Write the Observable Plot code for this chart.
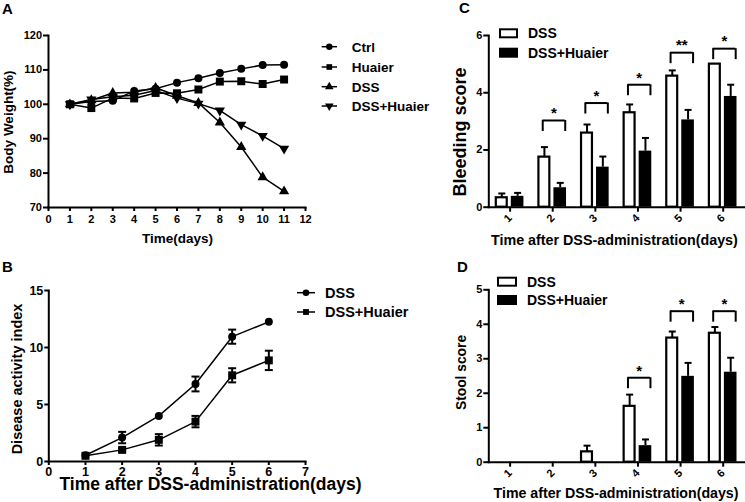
<!DOCTYPE html>
<html>
<head>
<meta charset="utf-8">
<script src="https://cdn.jsdelivr.net/npm/d3@7"></script>
<script src="https://cdn.jsdelivr.net/npm/@observablehq/plot@0.6"></script>
<style>
  body { margin: 0; background: #fff; }
  #fig { position: relative; width: 745px; height: 502px; overflow: hidden; background: #fff;
         font-family: "Liberation Sans", Arial, Helvetica, sans-serif; font-weight: bold; color: #000; }
  .panel { position: absolute; }
  .panel svg { display: block; }
  .letter { position: absolute; font-size: 15px; font-weight: bold; line-height: 15px; }
</style>
</head>
<body>
<div id="fig"></div>
<script>
// ---------------- DATA ----------------
// Panel A: body weight (%)
const weightDays = [1, 2, 3, 4, 5, 6, 7, 8, 9, 10, 11];
const weightCtrl = [100, 100.8, 101.0, 103.9, 104.5, 106.3, 107.6, 109.1, 110.3, 111.4, 111.5];
const weightHuaier = [100, 98.9, 101.8, 101.7, 103.3, 103.2, 104.3, 106.6, 106.7, 105.9, 107.2];
const weightDSS = [100, 101.2, 103.3, 103.5, 104.8, 102.5, 100.4, 94.7, 87.6, 78.8, 74.7];
const weightDSSHuaier = [100, 101.4, 102.2, 102.6, 104.0, 101.8, 100.2, 98.2, 94.1, 90.8, 87.1];
const weightGroups = ["Ctrl", "Huaier", "DSS", "DSS+Huaier"];
const weightTicksX = [0, 1, 2, 3, 4, 5, 6, 7, 8, 9, 10, 11, 12];
const weightTicksY = [70, 80, 90, 100, 110, 120];

// Panel B: disease activity index (mean, SEM)
const daiDays = [1, 2, 3, 4, 5, 6];
const daiDSS = [0.55, 2.1, 4.0, 6.8, 10.95, 12.25];
const daiDSSErr = [0, 0.5, 0, 0.65, 0.62, 0];
const daiHuaier = [0.5, 1.02, 1.9, 3.5, 7.56, 8.87];
const daiHuaierErr = [0, 0.15, 0.5, 0.5, 0.62, 0.85];
const daiGroups = ["DSS", "DSS+Huaier"];
const daiTicksX = [0, 1, 2, 3, 4, 5, 6, 7];
const daiTicksY = [0, 5, 10, 15];

// Panels C & D: scores by day
const scoreDays = [1, 2, 3, 4, 5, 6];
const scoreGroups = ["DSS", "DSS+Huaier"];
// C: bleeding score
const bleedDSS = [0.33, 1.75, 2.59, 3.30, 4.58, 5.0];
const bleedDSSErr = [0.15, 0.35, 0.30, 0.29, 0.20, 0];
const bleedHuaier = [0.38, 0.68, 1.40, 1.96, 3.05, 3.87];
const bleedHuaierErr = [0.12, 0.17, 0.37, 0.46, 0.35, 0.41];
const bleedSigLevel = [null, 3.03, 3.64, 4.28, 5.40, 5.54];
const bleedSigMark = ["", "*", "*", "*", "**", "*"];
const bleedTicksY = [0, 2, 4, 6];
// D: stool score
const stoolDSS = [0, 0, 0.30, 1.62, 3.60, 3.74];
const stoolDSSErr = [0, 0, 0.18, 0.34, 0.19, 0.18];
const stoolHuaier = [0, 0, 0, 0.48, 2.49, 2.61];
const stoolHuaierErr = [0, 0, 0, 0.18, 0.39, 0.42];
const stoolSigLevel = [null, null, null, 2.45, 4.38, 4.38];
const stoolSigMark = ["", "", "", "*", "*", "*"];
const stoolTicksY = [0, 1, 2, 3, 4, 5];

// ---------------- HELPERS ----------------
const FONT = '"Liberation Sans", Arial, Helvetica, sans-serif';
const baseStyle = {background: "transparent", overflow: "visible", fontFamily: FONT, fontWeight: "bold", color: "black"};
const intFmt = d3.format("d");
const sqrt3 = Math.sqrt(3);
const triangleDown = {
  draw(ctx, size) {
    const y = Math.sqrt(size / (sqrt3 * 3));
    ctx.moveTo(0, 2 * y);
    ctx.lineTo(-sqrt3 * y, -y);
    ctx.lineTo(sqrt3 * y, -y);
    ctx.closePath();
  }
};
const capSymbol = {
  draw(ctx, size) {
    const w = Math.sqrt(size / Math.PI);
    ctx.moveTo(-w, 0);
    ctx.lineTo(w, 0);
  }
};

const fig = document.getElementById("fig");
function place(svg, left, top) {
  const div = document.createElement("div");
  div.className = "panel";
  div.style.left = left + "px";
  div.style.top = top + "px";
  div.appendChild(svg);
  fig.appendChild(div);
}
function letter(t, left, top) {
  const d = document.createElement("div");
  d.className = "letter";
  d.style.left = left + "px";
  d.style.top = top + "px";
  d.textContent = t;
  fig.appendChild(d);
}
function legendGroup(svg, fontSize) {
  return d3.select(svg).append("g").attr("font-size", fontSize).attr("font-family", FONT)
    .attr("font-weight", "bold").attr("text-anchor", "start");
}
function lineLegend(svg, items, {x1, x2, cx, tx, ys, fontSize}) {
  const g = legendGroup(svg, fontSize);
  items.forEach((it, i) => {
    g.append("line").attr("x1", x1).attr("x2", x2).attr("y1", ys[i]).attr("y2", ys[i])
      .attr("stroke", "black").attr("stroke-width", 1.5);
    g.append("path").attr("d", d3.symbol(it.symbol, it.r * it.r * Math.PI)())
      .attr("transform", `translate(${cx},${ys[i]})`).attr("fill", "black");
    g.append("text").attr("x", tx).attr("y", ys[i]).attr("dy", "0.36em").attr("fill", "black").text(it.label);
  });
}
function boxLegend(svg, items, {x, w, h, tx, ys, fontSize}) {
  const g = legendGroup(svg, fontSize);
  items.forEach((it, i) => {
    g.append("rect").attr("x", x + 1).attr("y", ys[i] - h / 2 + 1).attr("width", w - 2).attr("height", h - 2)
      .attr("fill", it.fill).attr("stroke", "black").attr("stroke-width", 2);
    g.append("text").attr("x", tx).attr("y", ys[i]).attr("dy", "0.36em").attr("fill", "black").text(it.label);
  });
}
function axisTitle(svg, text, {x, y, size, rotate = 0}) {
  d3.select(svg).append("text")
    .attr("transform", `translate(${x},${y}) rotate(${rotate})`)
    .attr("text-anchor", "middle").attr("dy", "0.36em")
    .attr("font-size", size).attr("font-weight", "bold").attr("font-family", FONT)
    .attr("fill", "black").text(text);
}

// ---------------- PANEL A ----------------
const weightSeries = [
  {name: weightGroups[0], values: weightCtrl, symbol: d3.symbolCircle, r: 4},
  {name: weightGroups[1], values: weightHuaier, symbol: d3.symbolSquare, r: 4.5},
  {name: weightGroups[2], values: weightDSS, symbol: d3.symbolTriangle, r: 3.8},
  {name: weightGroups[3], values: weightDSSHuaier, symbol: triangleDown, r: 3.8}
];
const plotA = Plot.plot({
  width: 372, height: 250,
  marginLeft: 48, marginRight: 67, marginTop: 35, marginBottom: 43,
  style: baseStyle,
  x: {domain: [0, 12]},
  y: {domain: [70, 120]},
  marks: [
    ...weightSeries.flatMap(s => {
      const rows = weightDays.map((d, i) => ({day: d, value: s.values[i]}));
      return [
        Plot.line(rows, {x: "day", y: "value", stroke: "black", strokeWidth: 1.5}),
        Plot.dot(rows, {x: "day", y: "value", symbol: s.symbol, r: s.r, fill: "black", stroke: "none"})
      ];
    }),
    Plot.axisX({ticks: weightTicksX, tickFormat: intFmt, tickSize: 4, tickPadding: 4, fontSize: 11, strokeWidth: 2, label: null}),
    Plot.axisY({ticks: weightTicksY, tickFormat: intFmt, tickSize: 5, tickPadding: 1.5, fontSize: 11, strokeWidth: 2, label: null}),
    Plot.frame({anchor: "left", strokeWidth: 2}),
    Plot.frame({anchor: "bottom", strokeWidth: 2})
  ]
});
axisTitle(plotA, "Time(days)", {x: 177.5, y: 238, size: 13.5});
axisTitle(plotA, "Body Weight(%)", {x: 8.5, y: 122, size: 13.5, rotate: -90});
lineLegend(plotA, weightSeries.map(s => ({label: s.name, symbol: s.symbol, r: 3.2})),
  {x1: 321.7, x2: 337, cx: 329.3, tx: 351.7, ys: [46.7, 67, 86.7, 106], fontSize: 13.5});
place(plotA, 0, 0);

// ---------------- PANEL B ----------------
const daiSeries = [
  {name: daiGroups[0], values: daiDSS, err: daiDSSErr, symbol: d3.symbolCircle, r: 4},
  {name: daiGroups[1], values: daiHuaier, err: daiHuaierErr, symbol: d3.symbolSquare, r: 4.5}
];
const plotB = Plot.plot({
  width: 372, height: 252,
  marginLeft: 48.3, marginRight: 67, marginTop: 40, marginBottom: 41,
  style: baseStyle,
  x: {domain: [0, 7]},
  y: {domain: [0, 15]},
  marks: [
    ...daiSeries.flatMap(s => {
      const rows = daiDays.map((d, i) => ({day: d, value: s.values[i], lo: s.values[i] - s.err[i], hi: s.values[i] + s.err[i], err: s.err[i]}));
      const eb = rows.filter(r => r.err > 0);
      return [
        Plot.line(rows, {x: "day", y: "value", stroke: "black", strokeWidth: 1.5}),
        Plot.ruleX(eb, {x: "day", y1: "lo", y2: "hi", stroke: "black", strokeWidth: 2}),
        Plot.dot(eb, {x: "day", y: "hi", symbol: capSymbol, r: 4, fill: "none", stroke: "black", strokeWidth: 2}),
        Plot.dot(eb, {x: "day", y: "lo", symbol: capSymbol, r: 4, fill: "none", stroke: "black", strokeWidth: 2}),
        Plot.dot(rows, {x: "day", y: "value", symbol: s.symbol, r: s.r, fill: "black", stroke: "none"})
      ];
    }),
    Plot.axisX({ticks: daiTicksX, tickFormat: intFmt, tickSize: 4, tickPadding: 2, fontSize: 12.5, strokeWidth: 2, label: null}),
    Plot.axisY({ticks: daiTicksY, tickFormat: intFmt, tickSize: 4, tickPadding: 1.5, fontSize: 12.5, strokeWidth: 2, label: null}),
    Plot.frame({anchor: "left", strokeWidth: 2}),
    Plot.frame({anchor: "bottom", strokeWidth: 2})
  ]
});
axisTitle(plotB, "Time after DSS-administration(days)", {x: 210.5, y: 233.5, size: 17.5});
axisTitle(plotB, "Disease activity index", {x: 16.5, y: 129, size: 14.5, rotate: -90});
lineLegend(plotB, daiSeries.map(s => ({label: s.name, symbol: s.symbol, r: 3.3})),
  {x1: 297, x2: 315, cx: 306, tx: 325, ys: [42.7, 62], fontSize: 14.5});
place(plotB, 0, 250);

// ---------------- PANELS C & D ----------------
function scorePlot({dss, dssErr, hu, huErr, sig, sigMark, yMax, yTicks, height, marginTop, marginBottom}) {
  const rows = scoreDays.map((d, i) => ({
    day: d, dss: dss[i], dssTop: dss[i] + dssErr[i], dssErr: dssErr[i],
    hu: hu[i], huTop: hu[i] + huErr[i], huErr: huErr[i], sig: sig[i], mark: sigMark[i]
  }));
  const dssBars = rows.filter(r => r.dss > 0);
  const huBars = rows.filter(r => r.hu > 0);
  const dssEb = rows.filter(r => r.dssErr > 0);
  const huEb = rows.filter(r => r.huErr > 0);
  const sigRows = rows.filter(r => r.sig != null);
  return Plot.plot({
    width: 373, height,
    marginLeft: 116.3, marginRight: 1, marginTop, marginBottom,
    style: baseStyle,
    x: {type: "band", domain: scoreDays, padding: 0, round: false},
    y: {domain: [0, yMax]},
    marks: [
      Plot.barY(dssBars, {x: "day", y: "dss", fill: "white", stroke: "black", strokeWidth: 2.2, insetLeft: 7.5, insetRight: 24.2}),
      Plot.barY(huBars, {x: "day", y: "hu", fill: "black", insetLeft: 22.5, insetRight: 7.5}),
      Plot.ruleX(dssEb, {x: "day", y1: "dss", y2: "dssTop", dx: -8.3, stroke: "black", strokeWidth: 2}),
      Plot.dot(dssEb, {x: "day", y: "dssTop", dx: -8.3, symbol: capSymbol, r: 3.5, fill: "none", stroke: "black", strokeWidth: 2}),
      Plot.ruleX(huEb, {x: "day", y1: "hu", y2: "huTop", dx: 7.5, stroke: "black", strokeWidth: 2}),
      Plot.dot(huEb, {x: "day", y: "huTop", dx: 7.5, symbol: capSymbol, r: 3.5, fill: "none", stroke: "black", strokeWidth: 2}),
      // significance brackets
      Plot.ruleY(sigRows, {x1: "day", x2: "day", y: "sig", insetLeft: 11.3, insetRight: 8.8, stroke: "black", strokeWidth: 2}),
      Plot.ruleX(sigRows, {x: "day", y1: "sig", y2: "sig", dx: -10, insetBottom: -11, stroke: "black", strokeWidth: 2}),
      Plot.ruleX(sigRows, {x: "day", y1: "sig", y2: "sig", dx: 12.5, insetBottom: -11, stroke: "black", strokeWidth: 2}),
      Plot.text(sigRows, {x: "day", y: "sig", text: "mark", dx: 1.2, dy: -7, fontSize: 15}),
      Plot.axisX({tickFormat: intFmt, tickSize: 5, tickPadding: 4, tickRotate: -45, fontSize: 11, strokeWidth: 2, label: null}),
      Plot.axisY({ticks: yTicks, tickFormat: intFmt, tickSize: 5, tickPadding: 1.5, fontSize: 11, strokeWidth: 2, label: null}),
      Plot.frame({anchor: "left", strokeWidth: 2}),
      Plot.frame({anchor: "bottom", strokeWidth: 2})
    ]
  });
}

const plotC = scorePlot({
  dss: bleedDSS, dssErr: bleedDSSErr, hu: bleedHuaier, huErr: bleedHuaierErr,
  sig: bleedSigLevel, sigMark: bleedSigMark, yMax: 6, yTicks: bleedTicksY,
  height: 250, marginTop: 35, marginBottom: 43.3
});
axisTitle(plotC, "Time after DSS-administration(days)", {x: 242.4, y: 240, size: 14.3});
axisTitle(plotC, "Bleeding score", {x: 88, y: 132, size: 18, rotate: -90});
boxLegend(plotC, [{label: scoreGroups[0], fill: "white"}, {label: scoreGroups[1], fill: "black"}],
  {x: 127, w: 19, h: 10, tx: 156, ys: [33.3, 52.7], fontSize: 14});
place(plotC, 372, 0);

const plotD = scorePlot({
  dss: stoolDSS, dssErr: stoolDSSErr, hu: stoolHuaier, huErr: stoolHuaierErr,
  sig: stoolSigLevel, sigMark: stoolSigMark, yMax: 5, yTicks: stoolTicksY,
  height: 252, marginTop: 39.3, marginBottom: 40.3
});
axisTitle(plotD, "Time after DSS-administration(days)", {x: 244, y: 242.7, size: 14.2});
axisTitle(plotD, "Stool score", {x: 89.5, y: 122.5, size: 13.8, rotate: -90});
boxLegend(plotD, [{label: scoreGroups[0], fill: "white"}, {label: scoreGroups[1], fill: "black"}],
  {x: 125, w: 20, h: 10, tx: 155, ys: [31.7, 50], fontSize: 14});
place(plotD, 372, 250);

// panel letters
letter("A", 2, 1);
letter("B", 2, 259);
letter("C", 459, 0);
letter("D", 457, 259);
</script>
</body>
</html>
